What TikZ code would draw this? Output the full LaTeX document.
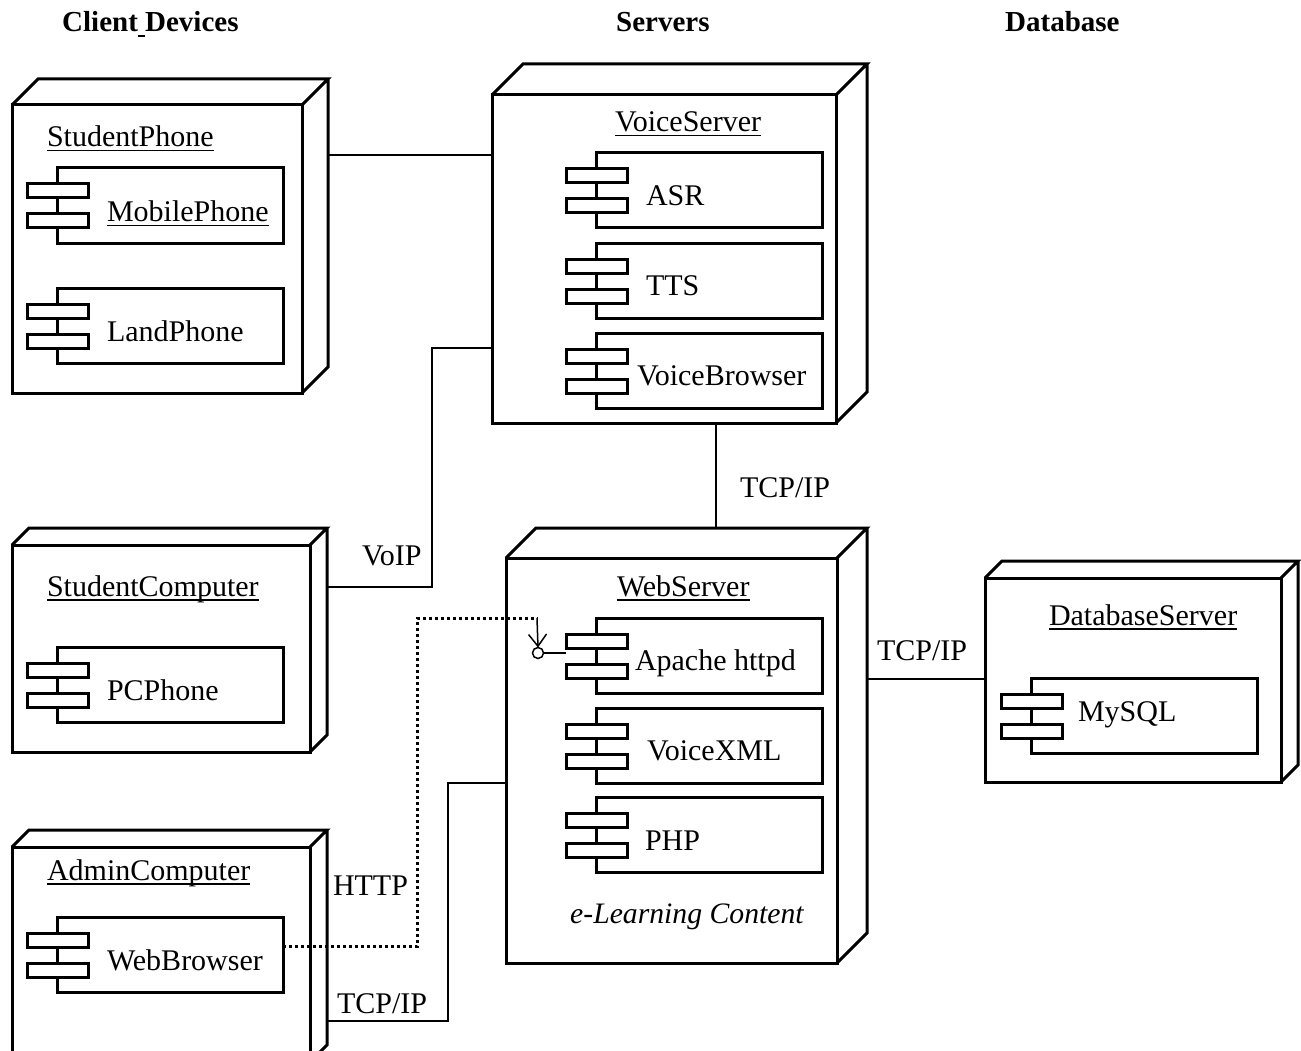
\documentclass[tikz,border=0pt]{standalone}
\usepackage{fontspec}
\setmainfont{Liberation Serif}
\usetikzlibrary{arrows.meta,calc}
\newcommand\ulab[1]{\setbox0\hbox{#1}\rlap{\rule[-4.5pt]{\wd0}{1.5pt}}\box0}
\newcommand\ulspace{\rlap{\kern0.02em\rule[-5pt]{0.24em}{1.8pt}}\ }
\newcommand\threed[2]{%
 \draw[edge3d] (#1.north west) -- ++(#2,-#2) -- ([shift={(#2,-#2)}]#1.north east) -- (#1.north east)
   ([shift={(#2,-#2)}]#1.north east) -- ([shift={(#2,-#2)}]#1.south east) -- (#1.south east);
}
\newcommand\comp[6]{%
 \node[comp] (#1) at (#2,#3) {};
 \draw[icon] ([shift={(-30,16)}]#1.north west) rectangle ++(61,14);
 \draw[icon] ([shift={(-30,46)}]#1.north west) rectangle ++(61,14);
 \node[lbl] (#1-t) at (#5,#6) {#4};
}
\tikzset{
 box/.style={draw, line width=3pt, outer sep=0pt, inner sep=0pt, anchor=north west, fill=white},
 edge3d/.style={line width=3pt, line join=miter},
 comp/.style={draw, line width=3pt, outer sep=0pt, inner sep=0pt, anchor=north west, minimum width=226pt, minimum height=75pt},
 icon/.style={line width=3pt, fill=white},
 lbl/.style={anchor=base west, inner sep=0pt, outer sep=0pt, font=\fontsize{30}{35}\selectfont},
 hdr/.style={anchor=base west, inner sep=0pt, font=\fontsize{29}{34}\selectfont\bfseries},
 conn/.style={line width=2.5pt},
 dots/.style={line width=3pt, dash pattern=on 3pt off 3pt},
 thinln/.style={line width=1.5pt},
}
\begin{document}
\begin{tikzpicture}[x=1pt,y=-1pt]
\useasboundingbox (0,0) rectangle (1301,1051);
\clip (0,0) rectangle (1301,1051);
\fill[white] (0,0) rectangle (1301,1051);

% headings
\node[hdr] (h1) at (62,32) {Client\ulspace Devices};
\node[hdr] (h2) at (616,32) {Servers};
\node[hdr] (h3) at (1005,32) {Database};

% StudentPhone
\node[box, minimum width=290pt, minimum height=288pt] (sp) at (12,105) {};
\threed{sp}{26}
\node[lbl] (sp-t) at (47,147) {\ulab{StudentPhone}};
\comp{mobile}{57}{168}{\ulab{MobilePhone}}{107}{222}
\comp{land}{57}{288}{LandPhone}{107}{341}

% StudentComputer
\node[box, minimum width=298pt, minimum height=207pt] (sc) at (12,545) {};
\threed{sc}{17}
\node[lbl] (sc-t) at (47,596) {\ulab{StudentComputer}};
\comp{pcphone}{57}{647}{PCPhone}{107}{700}

% AdminComputer
\node[box, minimum width=298pt, minimum height=215pt] (ac) at (12,847) {};
\threed{ac}{17}
\node[lbl] (ac-t) at (47,880) {\ulab{AdminComputer}};
\comp{wb}{57}{917}{WebBrowser}{107}{970}

% VoiceServer
\node[box, minimum width=344pt, minimum height=328pt] (vs) at (492,95) {};
\threed{vs}{31}
\node[lbl] (vs-t) at (615,132) {\ulab{VoiceServer}};
\comp{asr}{596}{153}{ASR}{646}{206}
\comp{tts}{596}{243}{TTS}{646}{295}
\comp{vb}{596}{333}{VoiceBrowser}{637}{385}

% WebServer
\node[box, minimum width=331pt, minimum height=405pt] (ws) at (506,558) {};
\threed{ws}{30}
\node[lbl] (ws-t) at (617,596) {\ulab{WebServer}};
\comp{apache}{596}{618}{Apache httpd}{635}{670}
\comp{vxml}{596}{708}{VoiceXML}{647}{760}
\comp{php}{596}{797}{PHP}{645}{850}
\node[anchor=base west, inner sep=0pt, font=\fontsize{29.7}{35}\selectfont\itshape] (elc) at (570,923) {e-Learning Content};

% DatabaseServer
\node[box, minimum width=296pt, minimum height=204pt] (db) at (985,578) {};
\threed{db}{17}
\node[lbl] (db-t) at (1049,625) {\ulab{DatabaseServer}};
\comp{mysql}{1031}{678}{MySQL}{1078}{721}

% connectors
\draw[conn] ([shift={(26,50)}]sp.north east) -- ([shift={(0,60)}]vs.north west);

\coordinate (voipbend) at (432,348);
\draw[conn] ([shift={(17,42)}]sc.north east) -| (voipbend) -- (voipbend -| vs.west);
\node[lbl] (voip) at (362,565) {VoIP};

\draw[conn] ([shift={(52,0)}]vs.south) -- ([shift={(44.5,-30)}]ws.north);
\node[lbl] (tcp1) at (740,497) {TCP/IP};

\draw[conn] ([shift={(30,121)}]ws.north east) -- ([shift={(0,101)}]db.north west);
\node[lbl] (tcp2) at (877,660) {TCP/IP};

\coordinate (tcpbend) at (448,783);
\draw[conn] ([shift={(17,174)}]ac.north east) -| (tcpbend) -- (tcpbend -| ws.west);
\node[lbl] (tcp3) at (337,1013) {TCP/IP};

\coordinate (hb1) at (417,618);
\coordinate (hb2) at (537,618);
\draw[dots] ([shift={(0,-8)}]wb.east) -| (hb1) -- (hb2);
\node[lbl] (http) at (333,895) {HTTP};
\node[circle, draw, thinln, minimum size=11pt, inner sep=0pt, outer sep=0pt] (lol) at (538,653) {};
\draw[thinln, -{Straight Barb[length=12pt,width=18pt,line width=1.5pt]}] (hb2) -- (lol.north);
\coordinate (apin) at ([shift={(-30,0)}]apache.west);
\draw[thinln] (lol.east) -- (lol.east -| apin);
\end{tikzpicture}
\end{document}
